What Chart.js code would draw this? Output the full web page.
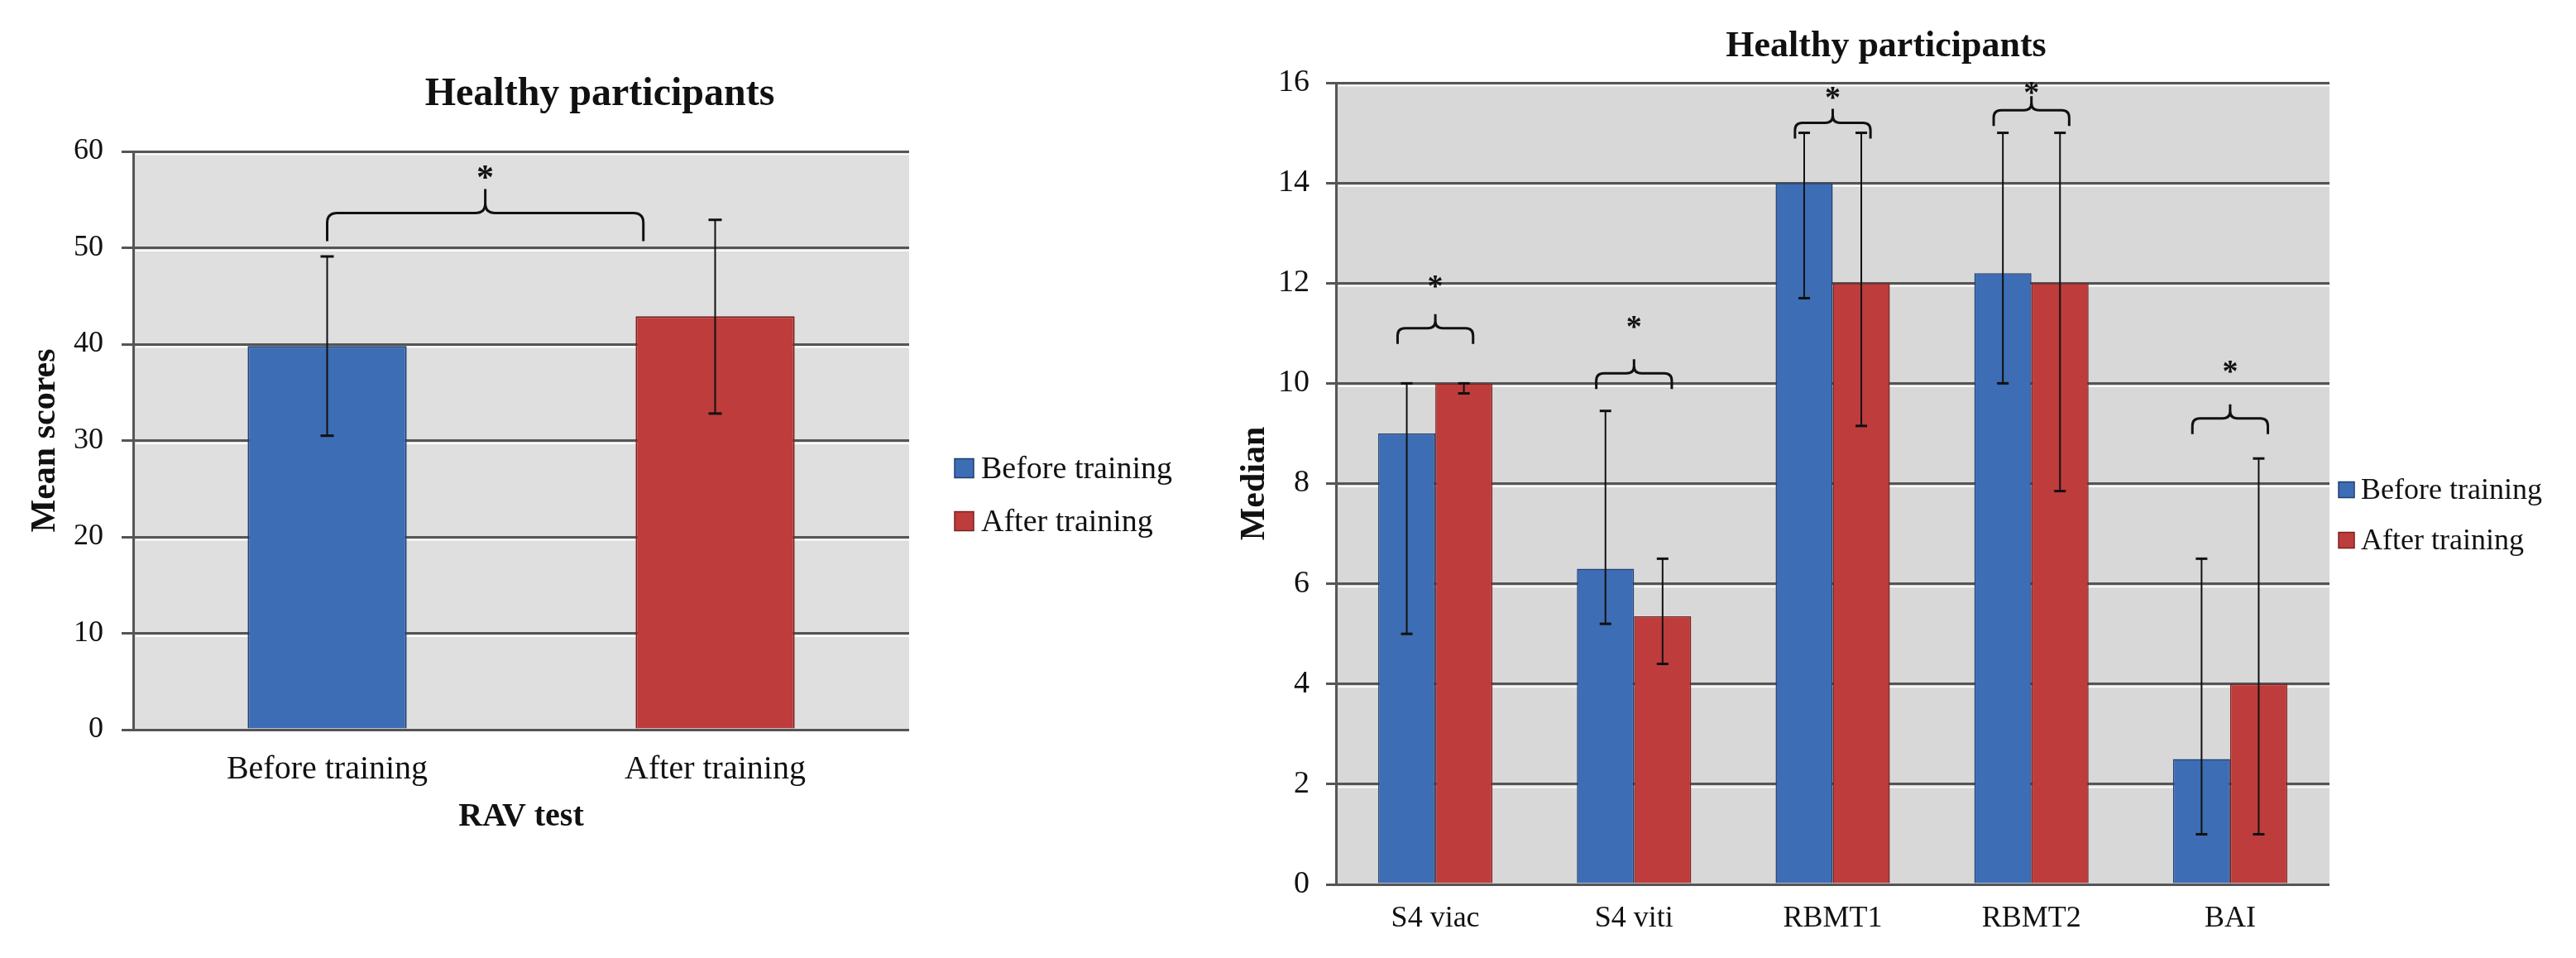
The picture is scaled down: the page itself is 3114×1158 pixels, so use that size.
<!DOCTYPE html>
<html>
<head>
<meta charset="utf-8">
<script src="https://cdn.jsdelivr.net/npm/chart.js@4.4.0/dist/chart.umd.min.js"></script>
<style>
  body { margin: 0; background: #fff; width: 3114px; height: 1158px; overflow: hidden; position: relative; }
  canvas { position: absolute; top: 0; }
  #rav { left: 0; }
  #tests { left: 1470px; }
</style>
</head>
<body>
<canvas id="rav" width="1470" height="1158"></canvas>
<canvas id="tests" width="1644" height="1158"></canvas>
<script>
const seriesNames = ['Before training', 'After training'];

// left panel: RAV test, mean scores with error bars
const ravLabels = ['Before training', 'After training'];
const ravMeans = [39.8, 42.9];
const ravLow = [30.5, 32.8];
const ravHigh = [49.1, 52.9];
const ravBracket = [53.6];
const ravStar = [57.9];

// right panel: medians with ranges
const testLabels = ['S4 viac', 'S4 viti', 'RBMT1', 'RBMT2', 'BAI'];
const beforeMedian = [9, 6.3, 14, 12.2, 2.5];
const beforeLow = [5, 5.2, 11.7, 10, 1];
const beforeHigh = [10, 9.45, 15, 15, 6.5];
const afterMedian = [10, 5.35, 12, 12, 4];
const afterLow = [9.8, 4.4, 9.15, 7.85, 1];
const afterHigh = [10, 6.5, 15, 15, 8.5];
const testBracket = [11.1, 10.2, 15.2, 15.45, 9.3];
const testStar = [12.05, 11.25, 15.82, 15.92, 10.35];

const BLUE = '#3d6db4', BLUE_EDGE = '#213f70';
const RED = '#be3c3c', RED_EDGE = '#7a2222';
const SERIF = "'Liberation Serif', 'DejaVu Serif', serif";
const INK = '#111';
const GRID = '#555';

function line(ctx, x0, y0, x1, y1) {
    ctx.beginPath();
    ctx.moveTo(x0, y0);
    ctx.lineTo(x1, y1);
    ctx.stroke();
}

// plot background, grid highlight, error bars, brackets, title and legend
const decor = {
    id: 'decor',
    beforeDraw(chart, args, o) {
        const { ctx, chartArea: a } = chart;
        ctx.save();
        ctx.fillStyle = o.plotBg;
        ctx.fillRect(a.left, a.top, a.right - a.left, a.bottom - a.top);
        ctx.restore();
    },
    beforeDatasetsDraw(chart) {
        const { ctx, chartArea: a, scales: { y } } = chart;
        ctx.save();
        ctx.strokeStyle = 'rgba(255,255,255,0.9)';
        ctx.lineWidth = 2;
        y.ticks.forEach(t => {
            const py = y.getPixelForValue(t.value) + 3.5;
            if (py > a.bottom) return;
            line(ctx, a.left + 3, py, a.right, py);
        });
        ctx.restore();
    },
    afterDatasetsDraw(chart, args, o) {
        const { ctx, scales: { x, y } } = chart;
        ctx.save();
        ctx.strokeStyle = INK;
        chart.data.datasets.forEach((ds, di) => {
            const meta = chart.getDatasetMeta(di);
            meta.data.forEach((bar, i) => {
                const top = y.getPixelForValue(ds.errHigh[i]);
                const bot = y.getPixelForValue(ds.errLow[i]);
                ctx.lineWidth = 2;
                line(ctx, bar.x, top, bar.x, bot);
                ctx.lineWidth = 3;
                line(ctx, bar.x - o.cap, top, bar.x + o.cap, top);
                line(ctx, bar.x - o.cap, bot, bar.x + o.cap, bot);
            });
        });

        const b = o.brackets;
        ctx.lineWidth = 3;
        ctx.lineJoin = 'round';
        b.level.forEach((lv, i) => {
            const x0 = x.getPixelForValue(i + b.from);
            const x1 = x.getPixelForValue(i + b.to);
            const xm = (x0 + x1) / 2;
            const yb = y.getPixelForValue(lv);
            const r = b.radius;
            ctx.beginPath();
            ctx.moveTo(x0, yb + b.drop);
            ctx.lineTo(x0, yb + r);
            ctx.quadraticCurveTo(x0, yb, x0 + r, yb);
            ctx.lineTo(xm - r, yb);
            ctx.quadraticCurveTo(xm, yb, xm, yb - r);
            ctx.lineTo(xm, yb - b.rise);
            ctx.moveTo(xm, yb - r);
            ctx.quadraticCurveTo(xm, yb, xm + r, yb);
            ctx.lineTo(x1 - r, yb);
            ctx.quadraticCurveTo(x1, yb, x1, yb + r);
            ctx.lineTo(x1, yb + b.drop);
            ctx.stroke();

            const ys = y.getPixelForValue(b.star[i]);
            ctx.fillStyle = INK;
            ctx.font = 'bold ' + b.starSize + 'px ' + SERIF;
            ctx.textAlign = 'center';
            ctx.textBaseline = 'alphabetic';
            ctx.fillText('*', xm, ys + b.starSize * 0.5);
        });
        ctx.restore();
    },
    afterDraw(chart, args, o) {
        const { ctx } = chart;
        ctx.save();
        ctx.fillStyle = INK;
        ctx.font = 'bold ' + o.title.size + 'px ' + SERIF;
        ctx.textAlign = 'center';
        ctx.textBaseline = 'middle';
        ctx.fillText(o.title.text, o.title.x, o.title.y);

        const lg = o.legend;
        ctx.font = lg.size + 'px ' + SERIF;
        ctx.textAlign = 'left';
        lg.items.forEach((it, i) => {
            const cy = lg.y + i * lg.gap;
            ctx.fillStyle = it.fill;
            ctx.fillRect(lg.x, cy - lg.box / 2, lg.box, lg.box);
            ctx.strokeStyle = it.stroke;
            ctx.lineWidth = 1.5;
            ctx.strokeRect(lg.x, cy - lg.box / 2, lg.box, lg.box);
            ctx.fillStyle = INK;
            ctx.fillText(it.text, lg.textX, cy + 2);
        });
        ctx.restore();
    }
};

function yAxis(max, step, width, tickSize, tickLen, tickPad, title, titlePad) {
    return {
        min: 0,
        max: max,
        ticks: { stepSize: step, color: INK, padding: tickPad, font: { family: SERIF, size: tickSize } },
        grid: { color: GRID, lineWidth: 3, tickLength: tickLen },
        border: { display: true, color: GRID, width: 3 },
        title: { display: true, text: title, color: INK, padding: { top: titlePad, bottom: 0 },
                 font: { family: SERIF, size: 42, weight: 'bold' } },
        afterFit(s) { s.width = width; }
    };
}

// left chart
new Chart(document.getElementById('rav'), {
    type: 'bar',
    data: {
        labels: ravLabels,
        datasets: [{
            data: ravMeans,
            errLow: ravLow,
            errHigh: ravHigh,
            backgroundColor: [BLUE, RED],
            borderColor: [BLUE_EDGE, RED_EDGE],
            borderWidth: 2,
            categoryPercentage: 1,
            barPercentage: 0.41
        }]
    },
    options: {
        responsive: false,
        animation: false,
        devicePixelRatio: 1,
        layout: { padding: { left: 0, top: 183, right: 371, bottom: 136 } },
        plugins: {
            legend: { display: false },
            tooltip: { enabled: false },
            decor: {
                plotBg: '#dfdfdf',
                cap: 8,
                brackets: { level: ravBracket, star: ravStar, from: 0, to: 0.815,
                            drop: 34, rise: 29, radius: 12, starSize: 42 },
                title: { text: 'Healthy participants', size: 48, x: 725, y: 115 },
                legend: {
                    items: ravLabels.map((t, i) => ({ text: t, fill: [BLUE, RED][i], stroke: [BLUE_EDGE, RED_EDGE][i] })),
                    x: 1154, y: 566, gap: 64, box: 23, textX: 1186, size: 38
                }
            }
        },
        scales: {
            x: {
                grid: { display: false, drawTicks: false },
                border: { display: false },
                ticks: { color: INK, padding: 24, font: { family: SERIF, size: 40 } },
                title: { display: true, text: 'RAV test', color: INK, padding: { top: 0, bottom: 10 },
                         font: { family: SERIF, size: 40, weight: 'bold' } },
                afterFit(s) { s.height = 140; }
            },
            y: yAxis(60, 10, 161, 36, 14, 22, 'Mean scores', 30)
        }
    },
    plugins: [decor]
});

// right chart
new Chart(document.getElementById('tests'), {
    type: 'bar',
    data: {
        labels: testLabels,
        datasets: [{
            label: seriesNames[0],
            data: beforeMedian,
            errLow: beforeLow,
            errHigh: beforeHigh,
            backgroundColor: BLUE,
            borderColor: BLUE_EDGE,
            borderWidth: 1.5
        }, {
            label: seriesNames[1],
            data: afterMedian,
            errLow: afterLow,
            errHigh: afterHigh,
            backgroundColor: RED,
            borderColor: RED_EDGE,
            borderWidth: 1.5
        }]
    },
    options: {
        responsive: false,
        animation: false,
        devicePixelRatio: 1,
        datasets: { bar: { categoryPercentage: 0.575, barPercentage: 1 } },
        layout: { padding: { left: 0, top: 100, right: 298, bottom: 0 } },
        plugins: {
            legend: { display: false },
            tooltip: { enabled: false },
            decor: {
                plotBg: '#d8d8d8',
                cap: 7,
                brackets: { level: testBracket, star: testStar, from: -0.19, to: 0.19,
                            drop: 19, rise: 17, radius: 9, starSize: 38 },
                title: { text: 'Healthy participants', size: 44, x: 810, y: 57 },
                legend: {
                    items: seriesNames.map((t, i) => ({ text: t, fill: [BLUE, RED][i], stroke: [BLUE_EDGE, RED_EDGE][i] })),
                    x: 1357, y: 592, gap: 61, box: 19, textX: 1384, size: 36
                }
            }
        },
        scales: {
            x: {
                grid: { display: false, drawTicks: false },
                border: { display: false },
                ticks: { color: INK, padding: 20, font: { family: SERIF, size: 36 } },
                afterFit(s) { s.height = 89; }
            },
            y: yAxis(16, 2, 145, 38, 12, 20, 'Median', 22)
        }
    },
    plugins: [decor]
});
</script>
</body>
</html>
